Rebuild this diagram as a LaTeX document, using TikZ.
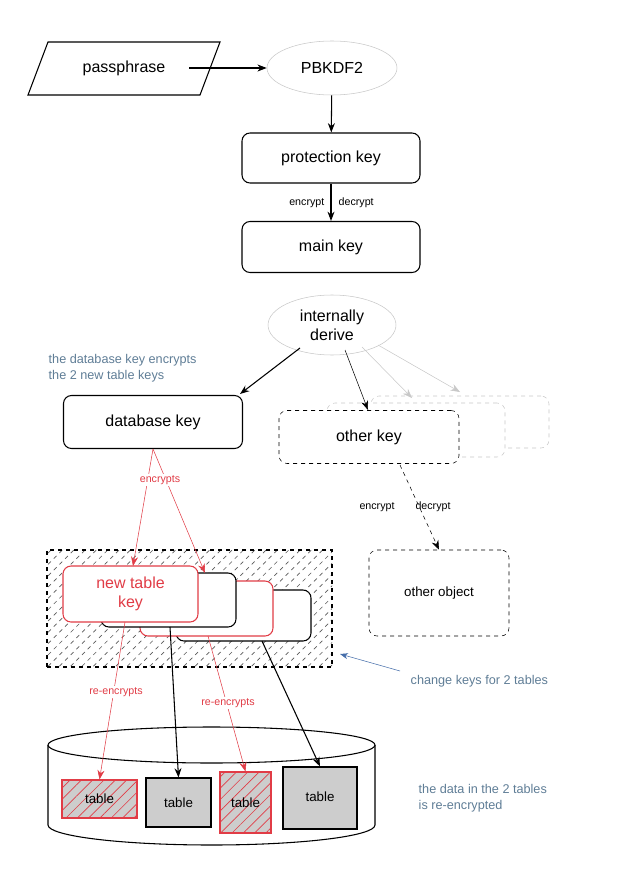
\documentclass[tikz,border=0pt]{standalone}
\usepackage{fontspec}
\setmainfont{Liberation Sans}
\usetikzlibrary{shapes.geometric,patterns.meta,arrows.meta}
\definecolor{myred}{RGB}{225,60,70}
\definecolor{note}{RGB}{95,125,150}
\definecolor{noteb}{RGB}{70,110,170}
\definecolor{lg}{RGB}{200,200,200}
\definecolor{tgray}{RGB}{205,205,205}
\begin{document}
\begin{tikzpicture}[x=0.75pt,y=-0.75pt,
 box/.style={draw,rounded corners=6pt,thick,fill=white,font=\fontsize{12}{14}\selectfont},
 ell/.style={ellipse,draw=lg,fill=white,font=\fontsize{12}{14}\selectfont,align=center},
 arr/.style={-{Stealth[length=7pt]},thick},
 small/.style={font=\fontsize{8}{10}\selectfont},
 hatch/.style={pattern={Lines[angle=45,distance=6pt,line width=0.5pt]},pattern color=#1},
 note/.style={font=\fontsize{9.5}{12}\selectfont,text=note,align=left,anchor=north west}]
\useasboundingbox (0,0) rectangle (624,884);
% top
\node[font=\fontsize{12}{14}\selectfont,minimum width=150*0.75pt,minimum height=53*0.75pt] (pp) at (124,68) {passphrase};
\draw[thick] (28,95) -- (48,42) -- (220,42) -- (200,95) -- cycle;
\node[ell,minimum width=130*0.75pt,minimum height=54*0.75pt] (pb) at (332,68) {PBKDF2};
\node[box,minimum width=178*0.75pt,minimum height=50*0.75pt] (pk) at (331,158) {protection key};
\node[box,minimum width=178*0.75pt,minimum height=51*0.75pt] (mk) at (331,247) {main key};
\node[ell,minimum width=128*0.75pt,minimum height=60*0.75pt,inner sep=1pt] (id) at (332,325) {internally\\derive};
\draw[arr] (pp.east) ++(-10,0) -- (pb);
\draw[arr] (pb) -- (pk);
\draw[arr] (pk) -- (mk);
\node[small,anchor=east] (enc1) at (329,203) {encrypt};
\node[small,anchor=west] (dec1) at (334,203) {decrypt};
\node[note] (n1) at (44,350) {the database key encrypts\\the 2 new table keys};
% other keys
\node[box,thin,dashed,draw=lg,minimum width=178*0.75pt,minimum height=52*0.75pt] (ok3) at (460,422) {};
\node[box,thin,dashed,draw=lg,minimum width=178*0.75pt,minimum height=54*0.75pt] (ok2) at (416,430) {};
\node[box,thin,dashed,minimum width=180*0.75pt,minimum height=53*0.75pt] (ok) at (369,437) {other key};
\node[box,minimum width=179*0.75pt,minimum height=53*0.75pt] (db) at (153,422) {database key};
\draw[arr] (300,348) coordinate (s1) -- (240,394) coordinate (t1c);
\draw[arr,thin] (345,350) coordinate (s2) -- (368,410) coordinate (t2);
\draw[arr,thin,draw=lg] (362,347) coordinate (s3) -- (412,398) coordinate (t3);
\draw[arr,thin,draw=lg] (378,345) coordinate (s4) -- (460,392) coordinate (t4);
\node[box,thin,dashed,minimum width=140*0.75pt,minimum height=86*0.75pt,font=\fontsize{10}{12}\selectfont] (oo) at (439,593) {other object};
\draw[arr,thin,dashed] (400,465) coordinate (s5) -- (oo.north);
\node[small] (enc2) at (377,507) {encrypt};
\node[small] (dec2) at (433,507) {decrypt};
% hatched area
\node[draw,thick,dashed,hatch=gray!70!black,minimum width=285*0.75pt,minimum height=117*0.75pt] (area) at (189.5,608.5) {};
\node[box,minimum width=135*0.75pt,minimum height=51*0.75pt] (k4) at (243.5,615.5) {};
\node[box,draw=myred,minimum width=133*0.75pt,minimum height=55*0.75pt] (k3) at (206.5,608.5) {};
\node[box,minimum width=135*0.75pt,minimum height=54*0.75pt] (k2) at (168.5,600) {};
\node[box,draw=myred,text=myred,align=center,minimum width=135*0.75pt,minimum height=56*0.75pt,inner sep=1pt] (k1) at (130.5,594) {new table\\key};
\draw[arr,myred,thin] (153,449) coordinate (s6) -- (133,566);
\draw[arr,myred,thin] (s6) -- (205,573);
\node[small,text=myred,fill=white,inner sep=1pt] (enc3) at (160,480) {encrypts};
\node[note,anchor=west] (n2) at (406,681) {change keys for 2 tables};
\draw[-{Stealth[length=6pt]},noteb,thin] (400,671) coordinate (s7) -- (340,654);
% cylinder
\draw[thick,fill=white] (48,745) coordinate (c0) -- (48,825) arc[start angle=180,end angle=0,x radius=163.5,y radius=20] -- (375,745);
\draw[thick,fill=white] (211.5,745) ellipse[x radius=163.5,y radius=18];
\node[draw=myred,thick,fill=tgray,minimum width=75*0.75pt,minimum height=38*0.75pt] (t1) at (99.5,799) {};
\node[draw=myred,thick,hatch=myred,minimum width=75*0.75pt,minimum height=38*0.75pt] (t1p) at (99.5,799) {};
\node[draw,thick,fill=tgray,minimum width=65*0.75pt,minimum height=49*0.75pt] (t2b) at (178.5,802.5) {};
\node[draw=myred,thick,fill=tgray,minimum width=51*0.75pt,minimum height=61*0.75pt] (t3b) at (245.5,802.5) {};
\node[draw=myred,thick,hatch=myred,minimum width=51*0.75pt,minimum height=61*0.75pt] (t3p) at (245.5,802.5) {};
\node[draw,thick,fill=tgray,minimum width=74*0.75pt,minimum height=62*0.75pt] (t4b) at (320,798) {};
\node[font=\fontsize{10}{12}\selectfont] (l1) at (99.5,799) {table};
\node[font=\fontsize{10}{12}\selectfont] (l2) at (178.5,802.5) {table};
\node[font=\fontsize{10}{12}\selectfont] (l3) at (245.5,802.5) {table};
\node[font=\fontsize{10}{12}\selectfont] (l4) at (320,797) {table};
\draw[arr,myred,thin] (125,622) coordinate (s8) -- (t1.north);
\draw[arr] (170,627) coordinate (s9) -- (t2b.north);
\draw[arr,myred,thin] (208,636) coordinate (s10) -- (t3b.north);
\draw[arr] (262,641) coordinate (s11) -- (t4b.north);
\node[small,text=myred,fill=white,inner sep=1pt] (re1) at (116,692) {re-encrypts};
\node[small,text=myred,fill=white,inner sep=1pt] (re2) at (228,703) {re-encrypts};
\node[note] (n3) at (414,780) {the data in the 2 tables\\is re-encrypted};
\end{tikzpicture}
\end{document}
